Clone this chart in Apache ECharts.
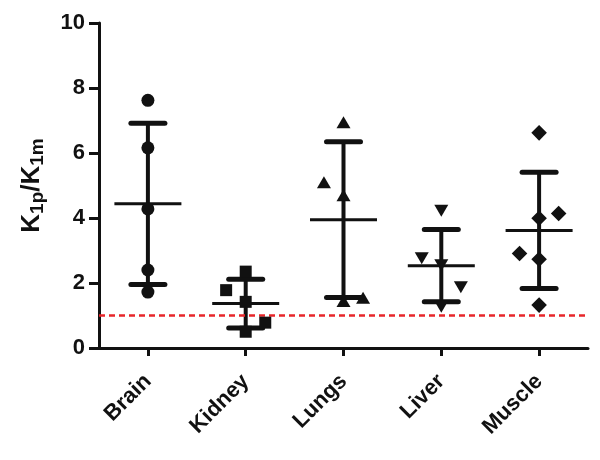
<!DOCTYPE html>
<html>
<head>
<meta charset="utf-8">
<script src="https://cdn.jsdelivr.net/npm/echarts@6/dist/echarts.min.js"></script>
<style>html,body{margin:0;padding:0;background:#fff}#c{width:600px;height:460px}</style>
</head>
<body>
<div id="c"></div>
<script>
// ---- data ----
const categories = ['Brain', 'Kidney', 'Lungs', 'Liver', 'Muscle'];
const brain  = [7.62, 6.16, 4.28, 2.40, 1.72];
const kidney = [2.35, 1.78, 1.42, 0.78, 0.50];
const lungs  = [6.95, 5.10, 4.70, 1.45, 1.55];
const liver  = [4.22, 2.76, 2.55, 1.87, 1.27];
const muscle = [6.62, 4.14, 3.99, 2.91, 2.73, 1.32];
// horizontal jitter of each point (in category units)
const brainJitter  = [0, 0, 0, 0, 0];
const kidneyJitter = [0, -0.2, 0, 0.2, 0];
const lungsJitter  = [0, -0.2, 0, 0, 0.2];
const liverJitter  = [0, -0.2, 0, 0.2, 0];
const muscleJitter = [0, 0.2, 0, -0.2, 0, 0];
const yTickMin = 0, yTickMax = 10, yTickStep = 2;
const referenceLevel = 1;

const groups = [brain, kidney, lungs, liver, muscle];
const jitters = [brainJitter, kidneyJitter, lungsJitter, liverJitter, muscleJitter];

function mean(a) { return a.reduce((s, v) => s + v, 0) / a.length; }
function sd(a) { const m = mean(a); return Math.sqrt(a.reduce((s, v) => s + (v - m) * (v - m), 0) / (a.length - 1)); }

const summary = groups.map((g, i) => [i, mean(g), sd(g)]);

const INK = '#111';
const FONT = 'Liberation Sans, Arial, sans-serif';
const symbols = [
  { symbol: 'circle', size: 13, rotate: 0 },
  { symbol: 'rect', size: 12, rotate: 0 },
  { symbol: 'triangle', size: [14, 12], rotate: 0 },
  { symbol: 'triangle', size: [14, 12], rotate: 180 },
  { symbol: 'rect', size: 11, rotate: 45 }
];

const scatterSeries = groups.map((g, i) => ({
  type: 'scatter',
  xAxisIndex: 1,
  symbol: symbols[i].symbol,
  symbolSize: symbols[i].size,
  symbolRotate: symbols[i].rotate,
  itemStyle: { color: INK, opacity: 1 },
  z: 5,
  data: g.map((v, k) => [i + jitters[i][k], v])
}));

const chart = echarts.init(document.getElementById('c'), null, { renderer: 'canvas' });
chart.setOption({
  animation: false,
  backgroundColor: '#fff',
  grid: { left: 99, right: 12, top: 23, bottom: 112, containLabel: false },
  xAxis: [
    {
      type: 'category',
      data: categories,
      boundaryGap: true,
      axisLine: { show: true, onZero: false, lineStyle: { color: INK, width: 3 } },
      axisTick: { show: true, alignWithLabel: true, length: 8, lineStyle: { color: INK, width: 3 } },
      axisLabel: { rotate: 45, margin: 30, color: INK, fontSize: 22, fontWeight: 'bold', fontFamily: FONT },
      splitLine: { show: false }
    },
    { type: 'value', min: -0.5, max: 4.5, show: false }
  ],
  yAxis: {
    type: 'value',
    min: yTickMin, max: yTickMax, interval: yTickStep,
    name: '{k|K}{s|1p}{k|/K}{s|1m}',
    nameLocation: 'middle',
    nameGap: 52,
    nameRotate: 90,
    nameTextStyle: {
      color: INK,
      rich: {
        k: { fontSize: 26, fontWeight: 'bold', fontFamily: FONT, color: INK, lineHeight: 30 },
        s: { fontSize: 19, fontWeight: 'bold', fontFamily: FONT, color: INK, lineHeight: 14, verticalAlign: 'bottom' }
      }
    },
    axisLine: { show: true, onZero: false, lineStyle: { color: INK, width: 3 } },
    axisTick: { show: true, length: 10, lineStyle: { color: INK, width: 3 } },
    axisLabel: { margin: 14, color: INK, fontSize: 22, fontWeight: 'bold', fontFamily: FONT },
    splitLine: { show: false }
  },
  series: [
    {
      type: 'custom',
      xAxisIndex: 1,
      z: 3,
      encode: { x: 0, y: 1 },
      data: summary,
      renderItem: function (params, api) {
        const x = api.value(0), m = api.value(1), s = api.value(2);
        const c = api.coord([x, m]);
        const t = api.coord([x, m + s]);
        const b = api.coord([x, m - s]);
        const st = (w) => ({ stroke: INK, lineWidth: w, lineCap: 'round' });
        return {
          type: 'group',
          children: [
            { type: 'line', shape: { x1: c[0], y1: t[1], x2: c[0], y2: b[1] }, style: { stroke: INK, lineWidth: 4 } },
            { type: 'line', shape: { x1: c[0] - 17, y1: t[1], x2: c[0] + 17, y2: t[1] }, style: st(5) },
            { type: 'line', shape: { x1: c[0] - 17, y1: b[1], x2: c[0] + 17, y2: b[1] }, style: st(5) },
            { type: 'line', shape: { x1: c[0] - 33.5, y1: c[1], x2: c[0] + 33.5, y2: c[1] }, style: { stroke: INK, lineWidth: 3 } }
          ]
        };
      },
      markLine: {
        silent: true,
        symbol: 'none',
        label: { show: false },
        lineStyle: { color: '#e8262a', width: 2.5, type: [6, 4] },
        data: [{ yAxis: referenceLevel }]
      }
    }
  ].concat(scatterSeries)
});
</script>
</body>
</html>
